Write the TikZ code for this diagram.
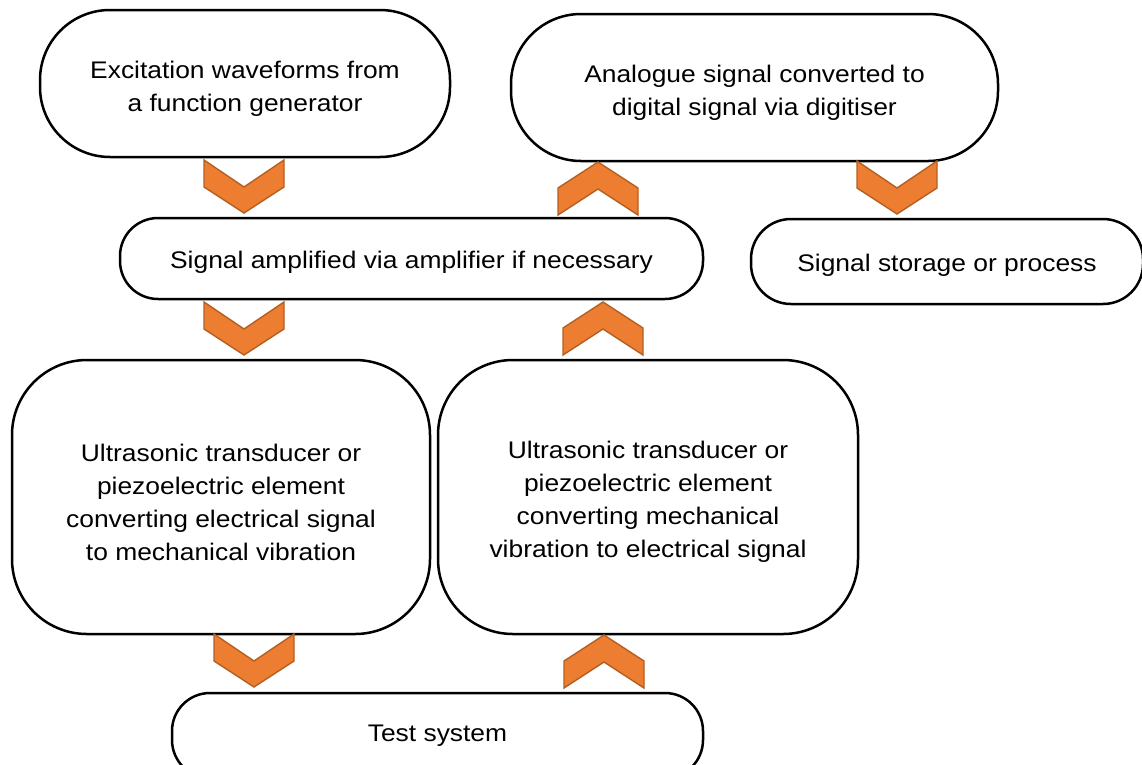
\documentclass[tikz,border=0pt]{standalone}
\usepackage{fontspec}
\setmainfont[FakeStretch=1.1]{Liberation Sans}
\definecolor{chevfill}{HTML}{ED7D31}
\definecolor{chevline}{HTML}{B45F22}
\begin{document}
\begin{tikzpicture}[x=1pt,y=-1pt,
  box/.style={draw=black, line width=2.5pt, fill=white, inner sep=0pt},
  txt/.style={align=center, inner sep=0pt, font=\fontsize{24}{33}\selectfont},
  chev/.style={fill=chevfill, draw=chevline, line width=1.4pt, line join=miter},
  pics/chevdown/.style={code={\path[chev] (0,0) -- (40,27) -- (80,0) -- (80,27) -- (40,53) -- (0,27) -- cycle;}},
  pics/chevup/.style={code={\path[chev] (40,0) -- (80,26) -- (80,53) -- (40,27) -- (0,53) -- (0,26) -- cycle;}}
]
\useasboundingbox (0,0) rectangle (1142,764);
\node[box, rounded corners=70pt, minimum width=410pt, minimum height=147pt] (ex) at (245,83.5) {};
\node[txt] (ex-t) at ([yshift=-5pt]ex.center) {Excitation waveforms from\\a function generator};
\node[box, rounded corners=70pt, minimum width=487pt, minimum height=147pt] (an) at (754.5,87.5) {};
\node[txt] (an-t) at ([yshift=-5pt]an.center) {Analogue signal converted to\\digital signal via digitiser};
\node[box, rounded corners=38pt, minimum width=583pt, minimum height=81pt] (amp) at (411.5,258.5) {};
\node[txt] (amp-t) at ([yshift=-4pt]amp.center) {Signal amplified via amplifier if necessary};
\node[box, rounded corners=40pt, minimum width=392pt, minimum height=85pt] (sto) at (947,261.5) {};
\node[txt] (sto-t) at ([yshift=-4pt]sto.center) {Signal storage or process};
\node[box, rounded corners=75pt, minimum width=418pt, minimum height=274pt] (tl) at (221,497) {};
\node[txt] (tl-t) at ([yshift=-5pt]tl.center) {Ultrasonic transducer or\\piezoelectric element\\converting electrical signal\\to mechanical vibration};
\node[box, rounded corners=75pt, minimum width=420pt, minimum height=274pt] (tr) at (648,497) {};
\node[txt] (tr-t) at ([yshift=-5pt]tr.center) {Ultrasonic transducer or\\piezoelectric element\\converting mechanical\\vibration to electrical signal};
\node[box, rounded corners=38pt, minimum width=531pt, minimum height=85pt] (test) at (437.5,735.5) {};
\node[txt] (test-t) at (test.center) {Test system};
% block-arrow connectors
\pic at (204,160) {chevdown};
\pic at (558,162) {chevup};
\pic at (857,161) {chevdown};
\pic at (204,302) {chevdown};
\pic at (563,302) {chevup};
\pic at (214,634) {chevdown};
\pic at (564,635) {chevup};
\end{tikzpicture}
\end{document}
